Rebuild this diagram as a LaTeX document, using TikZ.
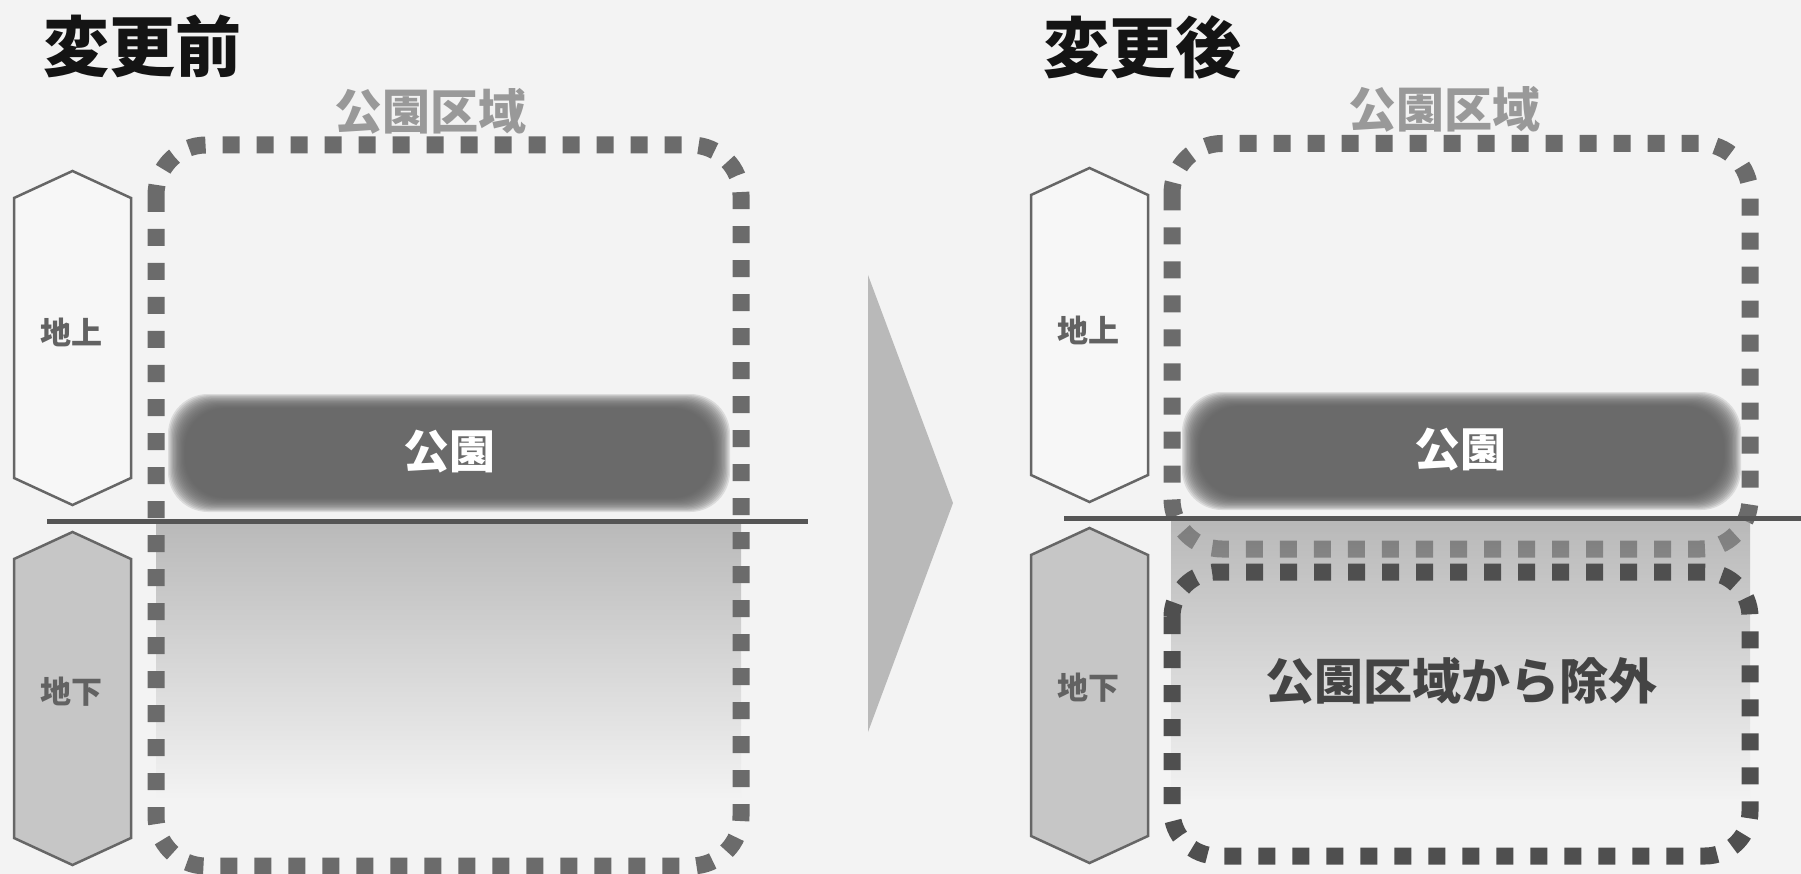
\documentclass[tikz,border=0pt]{standalone}
\usepackage{fontspec}
\newfontfamily\jp{Noto Sans CJK JP}
\usetikzlibrary{shadings}
\definecolor{bg}{HTML}{F3F3F3}
\definecolor{dashc}{HTML}{6B6B6B}
\definecolor{dashdark}{HTML}{4F4F4F}
\definecolor{hexline}{HTML}{666666}
\definecolor{hexlow}{HTML}{C6C6C6}
\definecolor{hexup}{HTML}{F7F7F7}
\definecolor{arrowc}{HTML}{B9B9B9}
\definecolor{zonec}{HTML}{999999}
\definecolor{txtdark}{HTML}{626262}
\definecolor{exclc}{HTML}{444444}
\definecolor{blobc}{HTML}{606060}
\definecolor{gradtop}{HTML}{B9B9B9}
\definecolor{gradtopb}{HTML}{8B8B8B}
\definecolor{groundc}{HTML}{555555}
\tikzset{
  zonedots/.style={draw=dashc, line width=17pt, dash pattern=on 17pt off 17pt, rounded corners=50pt},
  zonedark/.style={draw=dashdark, line width=17pt, dash pattern=on 17pt off 17pt, rounded corners=45pt},
  hexshape/.style={draw=hexline, line width=2.5pt, line join=miter},
  ground/.style={draw=groundc, line width=5pt},
  blobpart/.style={fill=blobc, fill opacity=0.16, rounded corners=40pt},
  titletxt/.style={font=\jp\bfseries\fontsize{66}{70}\selectfont, text=black!92},
  zonetxt/.style={font=\jp\bfseries\fontsize{48}{52}\selectfont, text=zonec},
  sidetxt/.style={font=\jp\bfseries\fontsize{31}{34}\selectfont, text=txtdark},
  parktxt/.style={font=\jp\bfseries\fontsize{46}{50}\selectfont, text=white},
  excltxt/.style={font=\jp\bfseries\fontsize{49}{52}\selectfont, text=exclc},
}
\begin{document}
\begin{tikzpicture}[x=1pt,y=-1pt]
\useasboundingbox (0,0) rectangle (1801,874);
\fill[bg] (0,0) rectangle (1801,874);

% ---------- left panel ----------
\node[titletxt] (tbefore) at (142,46) {変更前};
\node[zonetxt] (zoneL) at (430,111) {公園区域};

\shade[top color=gradtop, bottom color=bg] (156,521) rectangle (741,800);
\draw[zonedots] (156,145) rectangle (741,866);

\foreach \k in {0,...,13} {
  \fill[blobpart] (168+1.3*\k,394+1.1*\k) rectangle (730-1.3*\k,512-1.1*\k);
}
\node[parktxt] (parkL) at (449,452) {公園};

\draw[ground] (47,521) -- (808,521);

\draw[hexshape, fill=hexup] (14,198) -- (72.5,171) -- (131,198) -- (131,478) -- (72.5,505) -- (14,478) -- cycle;
\draw[hexshape, fill=hexlow] (14,559) -- (72.5,532) -- (131,559) -- (131,838) -- (72.5,865) -- (14,838) -- cycle;
\node[sidetxt] (upL) at (71,332) {地上};
\node[sidetxt] (downL) at (71,692) {地下};

% ---------- arrow ----------
\fill[arrowc] (868,275) -- (953,503) -- (868,732) -- cycle;

% ---------- right panel ----------
\node[titletxt] (tafter) at (1142,47) {変更後};
\node[zonetxt] (zoneR) at (1444,109) {公園区域};

\draw[zonedots] (1172,143.5) rectangle (1750,549);

\foreach \k in {0,...,13} {
  \fill[blobpart] (1182+1.3*\k,392+1.1*\k) rectangle (1741-1.3*\k,510-1.1*\k);
}
\node[parktxt] (parkR) at (1460,450) {公園};

\shade[top color=gradtopb, bottom color=bg, fill opacity=0.56] (1171,519) rectangle (1750,800);
\draw[zonedark] (1172,572) rectangle (1750,856);

\draw[ground] (1064,518) -- (1801,518);

\draw[hexshape, fill=hexup] (1031,195) -- (1089.5,168) -- (1148,195) -- (1148,475) -- (1089.5,502) -- (1031,475) -- cycle;
\draw[hexshape, fill=hexlow] (1031,555) -- (1089.5,528) -- (1148,555) -- (1148,836) -- (1089.5,863) -- (1031,836) -- cycle;
\node[sidetxt] (upR) at (1088,330) {地上};
\node[sidetxt] (downR) at (1088,688) {地下};

\node[excltxt] (excl) at (1461,681) {公園区域から除外};
\end{tikzpicture}
\end{document}
